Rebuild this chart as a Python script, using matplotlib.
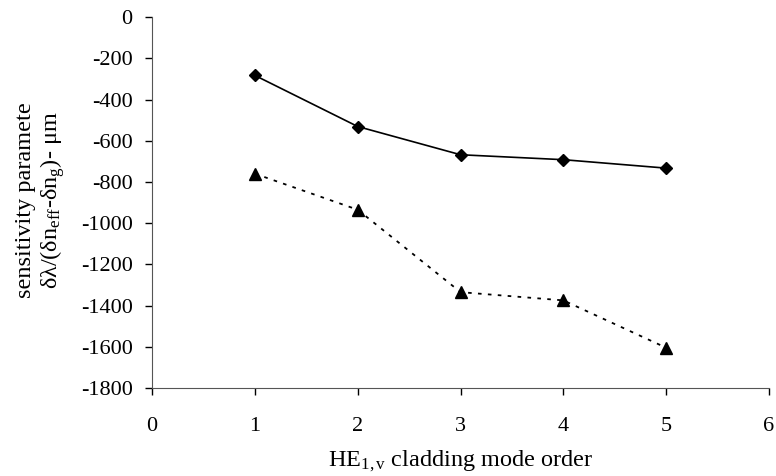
import matplotlib
matplotlib.use('Agg')
import matplotlib.pyplot as plt

plt.rcParams['font.family'] = ['Liberation Serif', 'DejaVu Serif']
plt.rcParams['mathtext.fontset'] = 'custom'
plt.rcParams['mathtext.rm'] = 'Liberation Serif'
plt.rcParams['mathtext.it'] = 'Liberation Serif:italic'
plt.rcParams['axes.unicode_minus'] = False

# cladding mode order and sensitivity values (um)
mode_order = [1, 2, 3, 4, 5]
sens_upper = [-283, -531, -668, -692, -733]
sens_lower = [-760, -935, -1335, -1375, -1605]

x_ticks = [0, 1, 2, 3, 4, 5, 6]
y_ticks = list(range(-1800, 1, 200))

fig = plt.figure(figsize=(7.76, 4.76), dpi=100)
ax = fig.add_axes([0.196, 0.185, 0.795, 0.779])

ax.plot(mode_order, sens_upper, color='black', lw=1.2,
        marker='D', markersize=6.5)
ax.plot(mode_order, sens_lower, color='black', lw=1.3,
        linestyle=(0, (2, 3.5)), marker='^', markersize=8)

ax.set_xlim(0, 6)
ax.set_ylim(-1800, 0)
ax.set_xticks(x_ticks)
ax.set_yticks(y_ticks)
ax.tick_params(labelsize=16, direction='out', length=5, width=1, color='black')
ax.tick_params(axis='x', pad=16)
ax.tick_params(axis='y', pad=9)

for side in ['top', 'right']:
    ax.spines[side].set_visible(False)
for side in ['left', 'bottom']:
    ax.spines[side].set_color('#555555')

ax.set_xlabel(r'HE$_{\mathrm{1,v}}$ cladding mode order', fontsize=17.5, labelpad=9)
fig.text(0.033, 0.58, 'sensitivity paramete', rotation=90,
         fontsize=17.5, ha='center', va='center')
fig.text(0.068, 0.58, r'δλ/(δn$_{\mathrm{eff}}$-δn$_{\mathrm{g}}$)- μm', rotation=90,
         fontsize=17.5, ha='center', va='center')

plt.savefig('out.png', dpi=100)
